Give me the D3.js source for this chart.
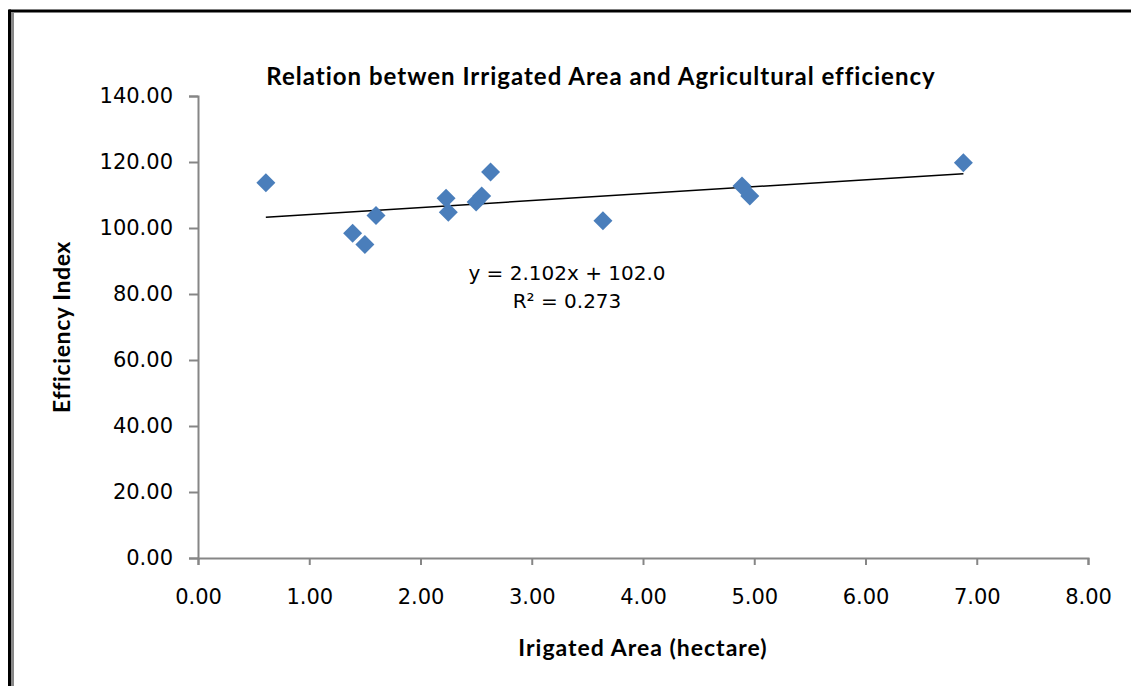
<!DOCTYPE html>
<html>
<head>
<meta charset="utf-8">
<script src="https://cdn.jsdelivr.net/npm/d3@7"></script>
<style>
  html, body { margin: 0; padding: 0; background: #fff; }
  svg { display: block; }
</style>
</head>
<body>
<div id="chart"></div>
<script>
// irrigated area (hectare) vs efficiency index
const irrigatedArea = [0.61, 1.39, 1.50, 1.60, 2.23, 2.25, 2.50, 2.55, 2.63, 3.64, 4.89, 4.96, 6.88]
const efficiencyIndex = [113.7, 98.4, 95.0, 103.8, 109.0, 104.8, 107.9, 109.7, 117.0, 102.2, 112.7, 109.7, 119.8]

const xTicks = [0, 1, 2, 3, 4, 5, 6, 7, 8]
const yTicks = [0, 20, 40, 60, 80, 100, 120, 140]

// trend line as printed on the chart
const trendSlope = 2.102
const trendIntercept = 102.0
const trendLabel = ['y = 2.102x + 102.0', 'R² = 0.273']

const titleText = 'Relation betwen Irrigated Area and Agricultural efficiency'
const xTitle = 'Irigated Area (hectare)'
const yTitle = 'Efficiency Index'

const width = 1131
const height = 686
const padding = { top: 96, right: 43, bottom: 128, left: 198 }

const svg = d3.select('#chart').append('svg')
    .attr('width', width)
    .attr('height', height)

// outer frame: only top and left edges are visible
svg.append('line')
    .attr('x1', 9).attr('x2', width).attr('y1', 11).attr('y2', 11)
    .attr('stroke', '#000').attr('stroke-width', 3)
svg.append('line')
    .attr('x1', 9.5).attr('x2', 9.5).attr('y1', 9.5).attr('y2', height)
    .attr('stroke', '#000').attr('stroke-width', 3)
svg.append('line')
    .attr('x1', 12.5).attr('x2', 12.5).attr('y1', 12.5).attr('y2', height)
    .attr('stroke', '#888').attr('stroke-width', 3)

const x = d3.scaleLinear()
    .domain([0, 8])
    .range([padding.left, width - padding.right])
const y = d3.scaleLinear()
    .domain([0, 140])
    .range([height - padding.bottom, padding.top])

const axisColor = '#868686'
const tickFont = '"DejaVu Sans", Verdana, sans-serif'

const xAxis = svg.append('g')
    .attr('transform', `translate(0,${y(0)})`)
    .call(d3.axisBottom(x).tickValues(xTicks).tickFormat(d3.format('.2f')).tickSizeOuter(0).tickSize(7).tickPadding(24))
xAxis.select('.domain').attr('stroke', axisColor).attr('stroke-width', 2)
xAxis.selectAll('.tick line').attr('stroke', axisColor).attr('stroke-width', 2)
xAxis.selectAll('.tick text')
    .attr('fill', '#000')
    .attr('font-family', tickFont)
    .attr('font-size', 21)

const yAxis = svg.append('g')
    .attr('transform', `translate(${x(0)},0)`)
    .call(d3.axisLeft(y).tickValues(yTicks).tickFormat(d3.format('.2f')).tickSizeOuter(0).tickSize(9).tickPadding(16))
yAxis.select('.domain').attr('stroke', axisColor).attr('stroke-width', 2)
yAxis.selectAll('.tick line').attr('stroke', axisColor).attr('stroke-width', 2)
yAxis.selectAll('.tick text')
    .attr('fill', '#000')
    .attr('font-family', tickFont)
    .attr('font-size', 21)

// trend line over the data range
const xExtent = d3.extent(irrigatedArea)
svg.append('line')
    .attr('x1', x(xExtent[0]))
    .attr('y1', y(trendSlope * xExtent[0] + trendIntercept))
    .attr('x2', x(xExtent[1]))
    .attr('y2', y(trendSlope * xExtent[1] + trendIntercept))
    .attr('stroke', '#000')
    .attr('stroke-width', 1.5)

// diamond markers
const diamond = d3.symbol().type(d3.symbolSquare).size(180)
svg.append('g')
    .selectAll('path')
    .data(irrigatedArea.map((d, i) => [d, efficiencyIndex[i]]))
    .enter()
    .append('path')
    .attr('d', diamond)
    .attr('transform', d => `translate(${x(d[0])},${y(d[1])}) rotate(45)`)
    .attr('fill', '#4a7ebb')

// equation label
svg.append('g')
    .selectAll('text')
    .data(trendLabel)
    .enter()
    .append('text')
    .attr('x', 567)
    .attr('y', (d, i) => 280 + i * 28)
    .attr('text-anchor', 'middle')
    .attr('font-family', tickFont)
    .attr('font-size', 20)
    .attr('fill', '#000')
    .text(d => d)

const titleFont = 'Lato, "Open Sans", sans-serif'

svg.append('text')
    .attr('x', 601)
    .attr('y', 85)
    .attr('text-anchor', 'middle')
    .attr('font-family', titleFont)
    .attr('font-weight', 'bold')
    .attr('font-size', 24)
    .attr('letter-spacing', 1)
    .attr('fill', '#000')
    .text(titleText)

svg.append('text')
    .attr('x', (x(0) + x(8)) / 2)
    .attr('y', 656)
    .attr('text-anchor', 'middle')
    .attr('font-family', titleFont)
    .attr('font-weight', 'bold')
    .attr('font-size', 23)
    .attr('letter-spacing', 1)
    .attr('fill', '#000')
    .text(xTitle)

svg.append('text')
    .attr('transform', `translate(70,${(y(0) + y(140)) / 2}) rotate(-90)`)
    .attr('text-anchor', 'middle')
    .attr('font-family', titleFont)
    .attr('font-weight', 'bold')
    .attr('font-size', 23)
    .attr('letter-spacing', 0.6)
    .attr('fill', '#000')
    .text(yTitle)
</script>
</body>
</html>
